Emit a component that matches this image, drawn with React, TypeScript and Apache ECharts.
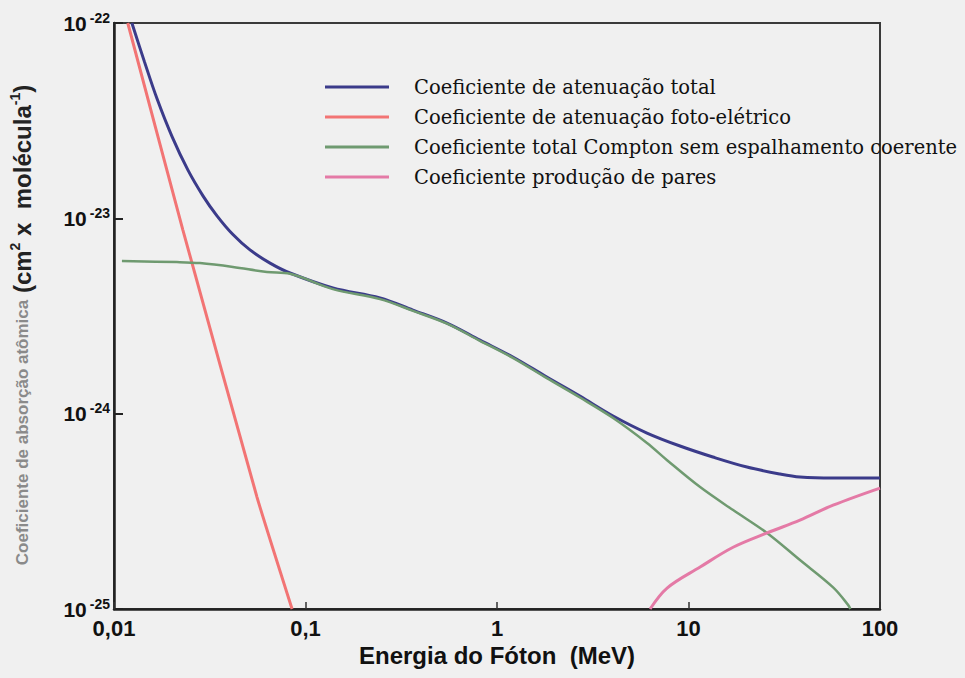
import React, { useEffect, useRef } from "react";
import * as echarts from "echarts";

// Energy (MeV) and coefficients (cm² × molécula⁻¹)
const energyTotal = [0.0124, 0.0144, 0.0168, 0.0201, 0.0243, 0.0292, 0.0345, 0.0418, 0.0513, 0.0653, 0.083, 0.139, 0.245, 0.364, 0.548, 0.815, 1.21, 1.82, 2.71, 4.04, 6.07, 9.03, 13.4, 20.2, 30.1, 38.2, 56.9, 100];
const coefTotal = [1.0e-22, 6.36e-23, 4.08e-23, 2.62e-23, 1.77e-23, 1.3e-23, 1.03e-23, 8.26e-24, 6.89e-24, 5.9e-24, 5.25e-24, 4.4e-24, 3.91e-24, 3.39e-24, 2.91e-24, 2.38e-24, 1.95e-24, 1.54e-24, 1.23e-24, 9.73e-25, 7.96e-25, 6.83e-25, 6.0e-25, 5.33e-25, 4.91e-25, 4.74e-25, 4.68e-25, 4.68e-25];

const energyPhoto = [0.0118, 0.0229, 0.0558, 0.0851];
const coefPhoto = [1.0e-22, 8.71e-24, 3.74e-25, 1.0e-25];

const energyCompton = [0.011, 0.0213, 0.0281, 0.0418, 0.0629, 0.083, 0.139, 0.245, 0.364, 0.548, 0.815, 1.21, 1.82, 2.71, 4.04, 6.07, 7.73, 11.5, 17.1, 25.7, 38.2, 56.9, 68.1, 70];
const coefCompton = [6.04e-24, 5.97e-24, 5.9e-24, 5.64e-24, 5.31e-24, 5.2e-24, 4.34e-24, 3.86e-24, 3.36e-24, 2.89e-24, 2.36e-24, 1.93e-24, 1.52e-24, 1.21e-24, 9.5e-25, 7.08e-25, 5.78e-25, 4.21e-25, 3.21e-25, 2.45e-25, 1.78e-25, 1.29e-25, 1.05e-25, 1.0e-25];

const energyPair = [6.3, 7.73, 11.5, 17.1, 25.7, 38.2, 56.9, 100];
const coefPair = [1.0e-25, 1.28e-25, 1.64e-25, 2.07e-25, 2.45e-25, 2.85e-25, 3.4e-25, 4.16e-25];

const seriesNames = [
  "Coeficiente de atenuação total",
  "Coeficiente de atenuação foto-elétrico",
  "Coeficiente total Compton sem espalhamento coerente",
  "Coeficiente produção de pares",
];
const seriesColors = ["#3b3b8a", "#f27474", "#6f9a70", "#e47aa6"];

const xTickLabels = ["0,01", "0,1", "1", "10", "100"];
const xAxisTitle = "Energia do Fóton  (MeV)";

// y values are plotted in units of 1e-25 so the log scale works on a sane range
const Y_UNIT_EXP = -25;
const Y_UNIT = Math.pow(10, Y_UNIT_EXP);

const zip = (xs: number[], ys: number[]) => xs.map((x, i) => [x, ys[i] / Y_UNIT]);

export default function App() {
  const ref = useRef<HTMLDivElement>(null);
  useEffect(() => {
    if (!ref.current) return;
    const chart = echarts.init(ref.current, undefined, { renderer: "svg" });
    const datasets = [
      zip(energyTotal, coefTotal),
      zip(energyPhoto, coefPhoto),
      zip(energyCompton, coefCompton),
      zip(energyPair, coefPair),
    ];
    const widths = [3, 3, 2.5, 3];
    const smooths = [0.35, 0.15, 0.35, 0.35];
    chart.setOption({
      animation: false,
      backgroundColor: "#f0f0f0",
      grid: {
        left: 114,
        right: 85,
        top: 23,
        bottom: 69,
        show: true,
        borderColor: "#3a3a3a",
        borderWidth: 2,
        backgroundColor: "transparent",
      },
      legend: {
        orient: "vertical",
        left: 320,
        top: 72,
        itemWidth: 64,
        itemHeight: 3,
        itemGap: 10,
        icon: "rect",
        data: seriesNames,
        textStyle: {
          fontFamily: "DejaVu Serif",
          fontSize: 19.5,
          color: "#111",
          padding: [0, 0, 0, 20],
        },
      },
      xAxis: {
        type: "log",
        logBase: 10,
        min: 0.01,
        max: 100,
        name: xAxisTitle,
        nameLocation: "middle",
        nameGap: 30,
        nameTextStyle: {
          fontFamily: "Liberation Sans",
          fontWeight: "bold",
          fontSize: 24,
          color: "#111",
        },
        axisLine: { show: true, lineStyle: { color: "#222", width: 2.5 } },
        axisTick: { show: true, inside: true, length: 7, lineStyle: { color: "#333", width: 1.5 } },
        splitLine: { show: false },
        axisLabel: {
          margin: 8,
          fontFamily: "Liberation Sans",
          fontWeight: "bold",
          fontSize: 22,
          color: "#111",
          formatter: (v: number) => {
            const e = Math.round(Math.log10(v));
            return xTickLabels[e + 2] ?? String(v);
          },
        },
      },
      yAxis: {
        type: "log",
        logBase: 10,
        min: 1,
        max: 1000,
        name: "{g|Coeficiente de absorção atômica}  {k|(cm}{s|2}{k| x  molécula}{s|-1}{k|)}",
        nameLocation: "middle",
        nameGap: 78,
        nameRotate: 90,
        nameTextStyle: {
          padding: [0, 18, 0, 0],
          rich: {
            g: { fontFamily: "Liberation Sans", fontWeight: "bold", fontSize: 17, color: "#8a8a8a" },
            k: { fontFamily: "Liberation Sans", fontWeight: "bold", fontSize: 24, color: "#222" },
            s: { fontFamily: "Liberation Sans", fontWeight: "bold", fontSize: 14, color: "#222", padding: [0, 0, 14, 0] },
          },
        },
        axisLine: { show: true, lineStyle: { color: "#222", width: 2.5 } },
        axisTick: { show: true, inside: true, length: 9, lineStyle: { color: "#222", width: 2 } },
        splitLine: { show: false },
        axisLabel: {
          margin: 4,
          formatter: (v: number) => {
            const e = Math.round(Math.log10(v)) + Y_UNIT_EXP;
            return `{a|10}{b|${e}}`;
          },
          rich: {
            a: { fontFamily: "Liberation Sans", fontWeight: "bold", fontSize: 21, color: "#111" },
            b: { fontFamily: "Liberation Sans", fontWeight: "bold", fontSize: 14, color: "#111", padding: [0, 0, 11, 3] },
          },
        },
      },
      series: datasets.map((d, i) => ({
        type: "line",
        name: seriesNames[i],
        data: d,
        showSymbol: false,
        symbol: "none",
        smooth: smooths[i],
        clip: true,
        color: seriesColors[i],
        lineStyle: { color: seriesColors[i], width: widths[i] },
      })),
    });
    return () => chart.dispose();
  }, []);
  return (
    <div
      ref={ref}
      style={{ position: "fixed", left: 0, top: 0, width: 965, height: 678, background: "#f0f0f0" }}
    />
  );
}
